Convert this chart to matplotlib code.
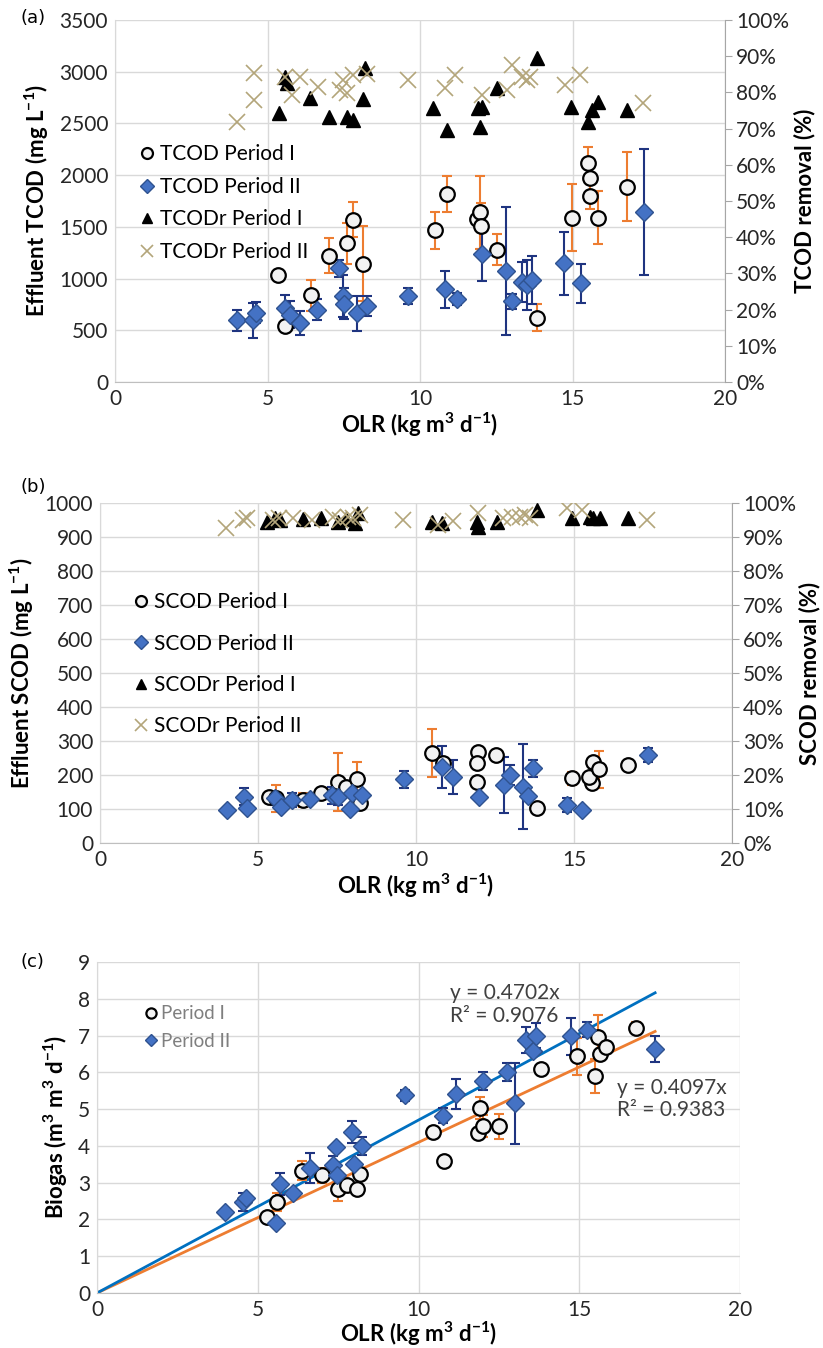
import numpy as np
import matplotlib.pyplot as plt
from matplotlib.ticker import MultipleLocator, PercentFormatter
from matplotlib.lines import Line2D

plt.rcParams['font.family'] = ['Lato', 'DejaVu Sans']
plt.rcParams['mathtext.default'] = 'regular'

# ---- panel (a): TCOD ----
tcod1_x = [5.36, 5.57, 6.42, 7.03, 7.60, 7.79, 8.12, 10.49, 10.87, 11.88, 11.97, 12.00, 12.54, 13.82, 14.97, 15.52, 15.57, 15.57, 15.85, 16.80]
tcod1_y = [1030, 545, 840, 1220, 1340, 1570, 1145, 1465, 1815, 1580, 1640, 1510, 1280, 620, 1590, 2115, 1975, 1795, 1590, 1890]
tcod1_err = [0, 40, 150, 170, 195, 170, 360, 175, 175, 0, 350, 220, 150, 130, 320, 160, 0, 120, 260, 330]

tcod2_x = [3.99, 4.54, 4.62, 5.57, 5.74, 6.07, 6.61, 7.36, 7.47, 7.51, 7.93, 8.25, 9.62, 10.82, 11.20, 12.02, 12.82, 13.00, 13.33, 13.50, 13.66, 14.73, 15.28, 17.36]
tcod2_y = [595, 595, 670, 715, 650, 570, 700, 1100, 830, 755, 665, 735, 830, 895, 800, 1240, 1075, 780, 970, 940, 985, 1150, 955, 1645]
tcod2_err = [100, 170, 100, 130, 130, 120, 100, 80, 200, 150, 170, 100, 80, 175, 60, 265, 620, 70, 195, 240, 230, 305, 190, 610]

tcodr1_x = [5.39, 5.57, 5.65, 6.39, 7.03, 7.60, 7.79, 8.12, 8.20, 10.44, 10.87, 11.91, 12.02, 11.97, 12.54, 13.82, 14.95, 15.52, 15.63, 15.85, 16.78]
tcodr1_y = [74.2, 84.3, 82.5, 78.4, 73.3, 73.3, 72.4, 78.1, 86.7, 75.6, 69.6, 75.6, 76.1, 70.5, 81.1, 89.4, 76.1, 71.9, 75.1, 77.4, 75.1]

tcodr2_x = [3.99, 4.56, 4.56, 5.57, 5.79, 6.07, 6.66, 7.38, 7.48, 7.60, 7.81, 8.25, 9.61, 10.82, 11.15, 12.02, 12.84, 13.00, 13.33, 13.50, 13.60, 14.75, 15.25, 17.31]
tcodr2_y = [71.9, 77.9, 85.4, 84.3, 79.3, 84.3, 81.4, 80.7, 83.4, 79.8, 84.8, 85.1, 83.4, 81.1, 84.8, 79.3, 80.7, 87.6, 84.3, 83.4, 84.3, 82.0, 84.8, 77.1]

# ---- panel (b): SCOD ----
scod1_x = [5.36, 5.57, 6.41, 6.98, 7.54, 7.80, 8.12, 8.23, 10.50, 10.86, 11.97, 11.92, 11.94, 12.53, 13.82, 14.93, 15.56, 15.59, 15.49, 15.80, 16.72]
scod1_y = [136, 131, 126, 146, 180, 166, 187, 118, 264, 234, 268, 234, 180, 259, 102, 190, 176, 239, 193, 217, 229]
scod1_err = [0, 40, 20, 0, 85, 0, 50, 0, 70, 0, 0, 0, 0, 0, 0, 20, 0, 0, 0, 55, 0]

scod2_x = [4.01, 4.57, 4.64, 5.54, 5.72, 6.08, 6.65, 7.33, 7.54, 7.91, 7.96, 8.28, 9.62, 10.81, 11.18, 12.00, 12.78, 12.97, 13.40, 13.55, 13.69, 14.77, 15.24, 17.33]
scod2_y = [97, 136, 102, 131, 107, 126, 129, 141, 136, 99, 146, 141, 187, 224, 195, 136, 171, 200, 166, 138, 220, 112, 97, 259]
scod2_err = [0, 25, 0, 20, 0, 20, 0, 25, 25, 0, 0, 0, 25, 62, 50, 0, 82, 30, 125, 0, 25, 20, 0, 20]

scodr1_x = [5.27, 5.53, 5.70, 6.41, 6.98, 7.54, 7.80, 8.07, 8.17, 10.50, 10.81, 11.92, 11.97, 12.55, 13.82, 14.93, 15.51, 15.61, 15.82, 16.72]
scodr1_y = [94.5, 95.5, 95.0, 95.2, 95.5, 94.5, 95.2, 94.0, 97.0, 94.5, 94.0, 94.5, 93.0, 94.5, 98.0, 95.5, 96.0, 95.5, 95.5, 95.5]

scodr2_x = [3.99, 4.54, 4.64, 5.48, 5.65, 6.12, 6.70, 7.38, 7.60, 7.86, 8.00, 8.23, 9.60, 10.70, 11.18, 11.97, 12.76, 13.03, 13.30, 13.45, 13.60, 14.77, 15.24, 17.30]
scodr2_y = [92.6, 95.0, 95.5, 95.0, 95.5, 95.5, 95.0, 96.0, 95.0, 96.0, 95.5, 96.5, 95.0, 93.5, 94.6, 97.0, 95.5, 96.0, 96.0, 96.5, 95.5, 98.6, 98.0, 95.0]

# ---- panel (c): biogas ----
bio1_x = [5.28, 5.59, 6.37, 6.99, 7.51, 7.77, 8.08, 8.18, 10.46, 10.80, 11.91, 11.86, 12.02, 12.51, 13.81, 14.92, 15.49, 15.57, 15.65, 15.82, 16.76]
bio1_y = [2.07, 2.48, 3.33, 3.20, 2.84, 2.95, 2.82, 3.24, 4.37, 3.59, 5.02, 4.35, 4.55, 4.53, 6.10, 6.44, 5.90, 6.96, 6.49, 6.68, 7.21]
bio1_err = [0, 0.25, 0.25, 0.2, 0.35, 0, 0, 0, 0, 0, 0.3, 0, 0.3, 0.35, 0, 0.5, 0.45, 0.6, 0, 0, 0.15]

bio2_x = [3.98, 4.55, 4.62, 5.57, 5.69, 6.09, 6.63, 7.35, 7.43, 7.47, 7.92, 7.99, 8.23, 9.58, 10.77, 11.17, 12.00, 12.74, 13.00, 13.34, 13.55, 13.65, 14.74, 15.25, 17.36]
bio2_y = [2.21, 2.48, 2.57, 1.89, 2.97, 2.73, 3.40, 3.47, 3.96, 3.22, 4.39, 3.51, 3.99, 5.38, 4.82, 5.41, 5.77, 6.01, 5.16, 6.87, 6.58, 7.00, 6.98, 7.16, 6.64]
bio2_err = [0, 0.25, 0, 0, 0.3, 0, 0.4, 0.25, 0, 0, 0.3, 0, 0.25, 0.15, 0.2, 0.4, 0.25, 0.25, 1.1, 0.35, 0, 0.35, 0.5, 0.2, 0.35]

slope1, r2_1 = 0.4097, 0.9383
slope2, r2_2 = 0.4702, 0.9076

GRID = '#D9D9D9'
BLUE = '#4472C4'
NAVY = '#1F3480'
ORANGE = '#ED7D31'
KHAKI = '#B3A57A'
TXT = '#262626'
TICK = 15
LAB = 16

circ = dict(marker='o', ms=10.5, mfc='#F2F2F2', mec='black', mew=1.6, ls='none')
diam = dict(marker='D', ms=9, mfc=BLUE, mec='#2F528F', mew=1.0, ls='none')
tri = dict(marker='^', ms=10.5, color='black', ls='none')
cross = dict(marker='x', ms=11, mew=1.2, color=KHAKI, ls='none')

fig = plt.figure(figsize=(8.23, 13.48), dpi=100)
W, H = 823, 1348


def rect(l, r, t, b):
    return [l / W, 1 - b / H, (r - l) / W, (b - t) / H]


def base(r, ymax, ystep):
    ax = fig.add_axes(r)
    ax.set_xlim(0, 20)
    ax.set_ylim(0, ymax)
    ax.xaxis.set_major_locator(MultipleLocator(5))
    ax.yaxis.set_major_locator(MultipleLocator(ystep))
    ax.grid(True, color=GRID, lw=1)
    ax.set_axisbelow(True)
    for s in ax.spines.values():
        s.set_visible(False)
    ax.spines['left'].set_visible(True)
    ax.spines['left'].set_color(GRID)
    ax.spines['bottom'].set_visible(True)
    ax.spines['bottom'].set_color('#BFBFBF')
    ax.tick_params(length=0, labelsize=TICK, pad=5, labelcolor=TXT)
    return ax


def errs(ax, x, y, e, color):
    x, y, e = np.array(x), np.array(y), np.array(e)
    m = e > 0
    ax.errorbar(x[m], y[m], yerr=e[m], fmt='none', ecolor=color,
                elinewidth=1.5, capsize=3.5, capthick=1.5, zorder=2)


def twin(ax):
    a2 = ax.twinx()
    a2.set_ylim(0, 100)
    a2.yaxis.set_major_locator(MultipleLocator(10))
    a2.yaxis.set_major_formatter(PercentFormatter(decimals=0))
    for s in a2.spines.values():
        s.set_visible(False)
    a2.spines['right'].set_visible(True)
    a2.spines['right'].set_color('#A6A6A6')
    a2.tick_params(axis='y', length=5, color='#A6A6A6', labelsize=TICK, pad=3, labelcolor=TXT)
    return a2


xlab = r'OLR (kg m$^3$ d$^{-1}$)'

# ---------- (a) ----------
ax = base(rect(115, 725, 20, 382), 3500, 500)
errs(ax, tcod1_x, tcod1_y, tcod1_err, ORANGE)
ax.plot(tcod1_x, tcod1_y, zorder=3, **circ)
errs(ax, tcod2_x, tcod2_y, tcod2_err, NAVY)
ax.plot(tcod2_x, tcod2_y, zorder=4, **diam)
ax2 = twin(ax)
ax2.plot(tcodr1_x, tcodr1_y, **tri)
ax2.plot(tcodr2_x, tcodr2_y, **cross)
ax.set_xlabel(xlab, fontsize=LAB, fontweight='bold', labelpad=1)
ax.set_ylabel('Effluent TCOD (mg L$^{-1}$)', fontsize=LAB, fontweight='bold', labelpad=6)
ax2.set_ylabel('TCOD removal (%)', fontsize=LAB, fontweight='bold', labelpad=3)
h = [Line2D([], [], **circ), Line2D([], [], **diam), Line2D([], [], **tri), Line2D([], [], **cross)]
ax2.legend(h, ['TCOD Period I', 'TCOD Period II', 'TCODr Period I', 'TCODr Period II'],
           loc='upper left', bbox_to_anchor=(128 / W, 1 - 134 / H), bbox_transform=fig.transFigure,
           frameon=False, fontsize=TICK, markerscale=0.75, handlelength=0.8, handletextpad=0.25,
           labelspacing=0.6, borderpad=0)
fig.text(20 / W, 1 - 18 / H, '(a)', fontsize=13, family='DejaVu Sans', va='center')

# ---------- (b) ----------
bx = base(rect(100, 732, 503, 843), 1000, 100)
errs(bx, scod1_x, scod1_y, scod1_err, ORANGE)
bx.plot(scod1_x, scod1_y, zorder=3, **circ)
errs(bx, scod2_x, scod2_y, scod2_err, NAVY)
bx.plot(scod2_x, scod2_y, zorder=4, **diam)
bx2 = twin(bx)
bx2.plot(scodr1_x, scodr1_y, **tri)
bx2.plot(scodr2_x, scodr2_y, **cross)
bx.set_xlabel(xlab, fontsize=LAB, fontweight='bold', labelpad=1)
bx.set_ylabel('Effluent SCOD (mg L$^{-1}$)', fontsize=LAB, fontweight='bold', labelpad=6)
bx2.set_ylabel('SCOD removal (%)', fontsize=LAB, fontweight='bold', labelpad=2)
bx2.legend(h, ['SCOD Period I', 'SCOD Period II', 'SCODr Period I', 'SCODr Period II'],
           loc='upper left', bbox_to_anchor=(122 / W, 1 - 582 / H), bbox_transform=fig.transFigure,
           frameon=False, fontsize=TICK, markerscale=0.75, handlelength=0.8, handletextpad=0.25,
           labelspacing=1.02, borderpad=0)
fig.text(20 / W, 1 - 487 / H, '(b)', fontsize=13, family='DejaVu Sans', va='center')

# ---------- (c) ----------
cx = base(rect(97, 740, 962, 1293), 9, 1)
xmax = max(bio1_x + bio2_x)
xl = np.array([0, xmax])
cx.plot(xl, slope1 * xl, color=ORANGE, lw=2, zorder=2)
cx.plot(xl, slope2 * xl, color='#0070C0', lw=2, zorder=2)
errs(cx, bio1_x, bio1_y, bio1_err, ORANGE)
cx.plot(bio1_x, bio1_y, zorder=3, **circ)
errs(cx, bio2_x, bio2_y, bio2_err, NAVY)
cx.plot(bio2_x, bio2_y, zorder=4, **diam)
cx.text(10.98, 7.84, 'y = %.4fx\nR² = %.4f' % (slope2, r2_2), fontsize=TICK, color='#404040',
        va='center', linespacing=1.15)
cx.text(16.17, 5.27, 'y = %.4fx\nR² = %.4f' % (slope1, r2_1), fontsize=TICK, color='#404040',
        va='center', linespacing=1.15)
cx.set_xlabel(xlab, fontsize=LAB, fontweight='bold', labelpad=0)
cx.set_ylabel('Biogas (m$^3$ m$^3$ d$^{-1}$)', fontsize=LAB, fontweight='bold', labelpad=6)
cx.legend(h[:2], ['Period I', 'Period II'], loc='upper left',
          bbox_to_anchor=(134 / W, 1 - 996 / H), bbox_transform=fig.transFigure,
          frameon=False, fontsize=13.5, markerscale=0.7, handlelength=0.8, handletextpad=0.15,
          labelspacing=0.55, borderpad=0, labelcolor='#7F7F7F')
fig.text(20 / W, 1 - 962 / H, '(c)', fontsize=13, family='DejaVu Sans', va='center')

fig.savefig('out.png', dpi=100)
